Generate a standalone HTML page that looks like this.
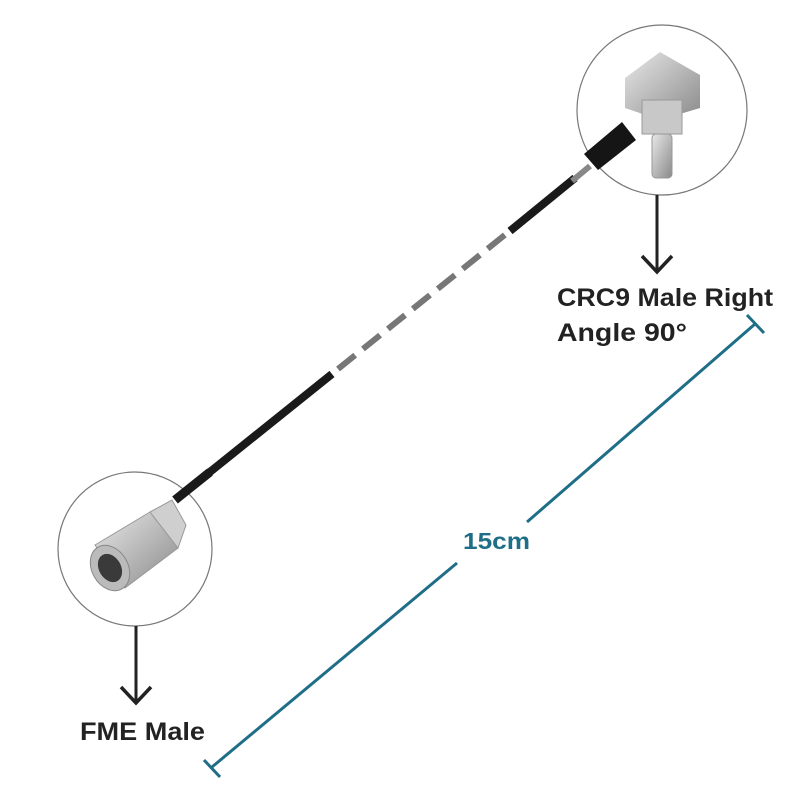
<!DOCTYPE html>
<html><head><style>
body{margin:0;background:#fff;}
svg{display:block}
text{font-family:"Liberation Sans",sans-serif;font-weight:bold}
</style></head><body>
<svg width="800" height="800" viewBox="0 0 800 800" xmlns="http://www.w3.org/2000/svg">
<defs>
<linearGradient id="metal" x1="0" y1="0" x2="1" y2="1">
<stop offset="0" stop-color="#e8e8e8"/><stop offset="0.5" stop-color="#b9b9b9"/><stop offset="1" stop-color="#8a8a8a"/>
</linearGradient>
</defs>
<!-- cable -->
<line x1="175" y1="500" x2="332" y2="374" stroke="#1a1a1a" stroke-width="8"/>
<line x1="338" y1="369" x2="506" y2="234" stroke="#777" stroke-width="6" stroke-dasharray="22,10"/>
<line x1="510" y1="231" x2="575" y2="178" stroke="#1a1a1a" stroke-width="8"/>
<!-- top circle -->
<circle cx="662" cy="110" r="85" fill="#fff" stroke="#777" stroke-width="1.2"/>
<line x1="572" y1="181" x2="590" y2="166" stroke="#888" stroke-width="6"/>
<polygon points="584,154 622,122 636,140 598,170" fill="#151515"/>
<polygon points="625,78 660,52 700,75 700,108 660,120 625,108" fill="url(#metal)"/>
<rect x="642" y="100" width="40" height="34" fill="#c8c8c8" stroke="#999"/>
<rect x="652" y="134" width="20" height="44" rx="4" fill="url(#metal)" stroke="#999"/>
<!-- top arrow -->
<line x1="657" y1="195" x2="657" y2="272" stroke="#222" stroke-width="3"/>
<polyline points="642,256 657,272 672,256" fill="none" stroke="#222" stroke-width="3.5"/>
<text x="557" y="306" font-size="25" fill="#222" textLength="216" lengthAdjust="spacingAndGlyphs">CRC9 Male Right</text>
<text x="557" y="341" font-size="25" fill="#222" textLength="130" lengthAdjust="spacingAndGlyphs">Angle 90°</text>
<!-- bottom circle -->
<circle cx="135" cy="549" r="77" fill="#fff" stroke="#777" stroke-width="1.2"/>
<line x1="175" y1="500" x2="210" y2="472" stroke="#1a1a1a" stroke-width="9"/>
<polygon points="95,545 150,512 178,548 125,588" fill="url(#metal)" stroke="#999"/>
<polygon points="150,512 172,500 186,525 178,548" fill="#cfcfcf" stroke="#999"/>
<ellipse cx="110" cy="568" rx="18" ry="24" transform="rotate(-30 110 568)" fill="#bbb" stroke="#888"/>
<ellipse cx="110" cy="568" rx="11" ry="15" transform="rotate(-30 110 568)" fill="#3a3a3a"/>
<!-- bottom arrow -->
<line x1="136" y1="626" x2="136" y2="703" stroke="#222" stroke-width="3"/>
<polyline points="121,687 136,703 151,687" fill="none" stroke="#222" stroke-width="3.5"/>
<text x="80" y="740" font-size="25" fill="#222" textLength="125" lengthAdjust="spacingAndGlyphs">FME Male</text>
<!-- dimension -->
<g stroke="#1f6e87" stroke-width="3">
<line x1="212" y1="767" x2="457" y2="563"/>
<line x1="527" y1="522" x2="755" y2="324"/>
<line x1="747" y1="315" x2="764" y2="333"/>
<line x1="204" y1="760" x2="220" y2="777"/>
</g>
<text x="463" y="549" font-size="23" fill="#1f6e87" textLength="67" lengthAdjust="spacingAndGlyphs">15cm</text>
</svg>
</body></html>
